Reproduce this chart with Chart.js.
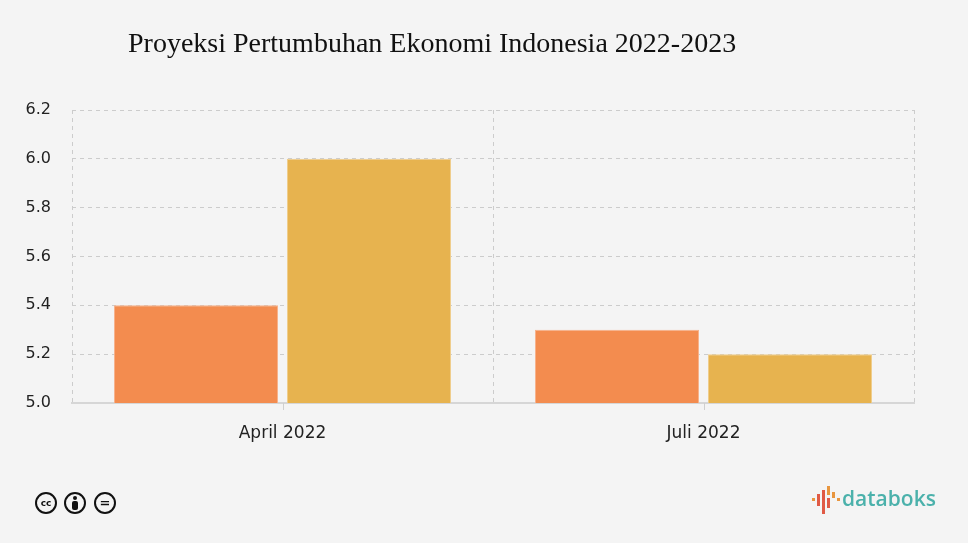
<!DOCTYPE html>
<html>
<head>
<meta charset="utf-8">
<script src="https://cdn.jsdelivr.net/npm/chart.js@4/dist/chart.umd.min.js"></script>
<style>
  html, body { margin: 0; padding: 0; background: #f4f4f4; }
  #wrap { position: relative; width: 968px; height: 543px; overflow: hidden; }
  #title {
    position: absolute; left: 128px; top: 27px;
    font-family: "Liberation Serif", "DejaVu Serif", serif;
    font-size: 28px; color: #111; white-space: nowrap;
  }
  .cc {
    position: absolute; top: 492px; width: 18px; height: 18px;
    border: 2px solid #111; border-radius: 50%;
    font-family: "DejaVu Sans", sans-serif; font-weight: bold;
    font-size: 9px; line-height: 18px; text-align: center; color: #111;
  }
  .cc .head { position: absolute; left: 7px; top: 2px; width: 4px; height: 4px; border-radius: 50%; background: #111; }
  .cc .body { position: absolute; left: 6px; top: 7px; width: 6px; height: 9px; border-radius: 2px; background: #111; }
  #logo { position: absolute; left: 812px; top: 486px; height: 30px; }
  #logo .bar { position: absolute; width: 3px; }
  #logo .txt {
    position: absolute; left: 30px; top: -2px;
    font-family: "Open Sans", "DejaVu Sans", sans-serif; font-weight: 600;
    font-size: 21px; color: #4bb1ab;
  }
</style>
</head>
<body>
<div id="wrap">
  <div id="title">Proyeksi Pertumbuhan Ekonomi Indonesia 2022-2023</div>
  <canvas id="chart" width="968" height="543"></canvas>
  <div class="cc" style="left:35px;">cc</div>
  <div class="cc" style="left:64px;"><span class="head"></span><span class="body"></span></div>
  <div class="cc" style="left:94px; font-size:13px;">=</div>
  <div id="logo">
    <div class="bar" style="left:0px; top:12px; height:3px; background:#e8963f;"></div>
    <div class="bar" style="left:5px; top:8px; height:12px; background:#e05a45;"></div>
    <div class="bar" style="left:10px; top:4px; height:24px; background:#e05a45;"></div>
    <div class="bar" style="left:15px; top:0px; height:9px; background:#e8963f;"></div>
    <div class="bar" style="left:15px; top:12px; height:10px; background:#e05a45;"></div>
    <div class="bar" style="left:20px; top:6px; height:6px; background:#e8963f;"></div>
    <div class="bar" style="left:25px; top:12px; height:3px; background:#e8963f;"></div>
    <div class="txt">databoks</div>
  </div>
</div>
<script>
const categories = ['April 2022', 'Juli 2022'];
const seriesNames = ['2022', '2023'];
const values2022 = [5.4, 5.3];
const values2023 = [6.0, 5.2];
const yTicks = [5.0, 5.2, 5.4, 5.6, 5.8, 6.0, 6.2];

// small tick marks under the category centres
const centreTicks = {
  id: 'centreTicks',
  afterDraw(chart) {
    const x = chart.scales.x;
    const ctx = chart.ctx;
    ctx.save();
    ctx.strokeStyle = '#cfcfcf';
    ctx.lineWidth = 1;
    categories.forEach((c, i) => {
      const px = Math.round(x.getPixelForValue(i)) + 0.5;
      ctx.beginPath();
      ctx.moveTo(px, x.top);
      ctx.lineTo(px, x.top + 7);
      ctx.stroke();
    });
    ctx.restore();
  }
};

const ctx = document.getElementById('chart').getContext('2d');
new Chart(ctx, {
  type: 'bar',
  data: {
    labels: categories,
    datasets: [
      {
        label: seriesNames[0],
        data: values2022,
        backgroundColor: '#f38c4f',
        borderColor: '#f7b28a',
        borderWidth: 1,
      },
      {
        label: seriesNames[1],
        data: values2023,
        backgroundColor: '#e7b34f',
        borderColor: '#efcd8c',
        borderWidth: 1,
      },
    ],
  },
  options: {
    responsive: false,
    animation: false,
    layout: { padding: { top: 110, right: 54, bottom: 0, left: 0 } },
    datasets: { bar: { categoryPercentage: 0.822, barPercentage: 0.948 } },
    plugins: {
      legend: { display: false },
      tooltip: { enabled: false },
    },
    scales: {
      x: {
        grid: {
          offset: true,
          color: '#cccccc',
          drawTicks: false,
        },
        border: { display: true, color: '#d6d6d6', width: 2, dash: [4, 4] },
        ticks: {
          padding: 20,
          color: '#222',
          font: { family: 'DejaVu Sans', size: 17 },
        },
        afterFit(scale) { scale.height = 140; },
      },
      y: {
        min: 5.0,
        max: 6.2,
        afterBuildTicks(scale) { scale.ticks = yTicks.map(v => ({ value: v })); },
        grid: {
          color: '#cccccc',
          drawTicks: false,
        },
        border: { display: false, dash: [4, 4] },
        ticks: {
          padding: 21,
          color: '#222',
          font: { family: 'DejaVu Sans', size: 16 },
          callback: v => Number(v).toFixed(1),
        },
        afterFit(scale) { scale.width = 72; },
      },
    },
  },
  plugins: [centreTicks],
});
</script>
</body>
</html>
